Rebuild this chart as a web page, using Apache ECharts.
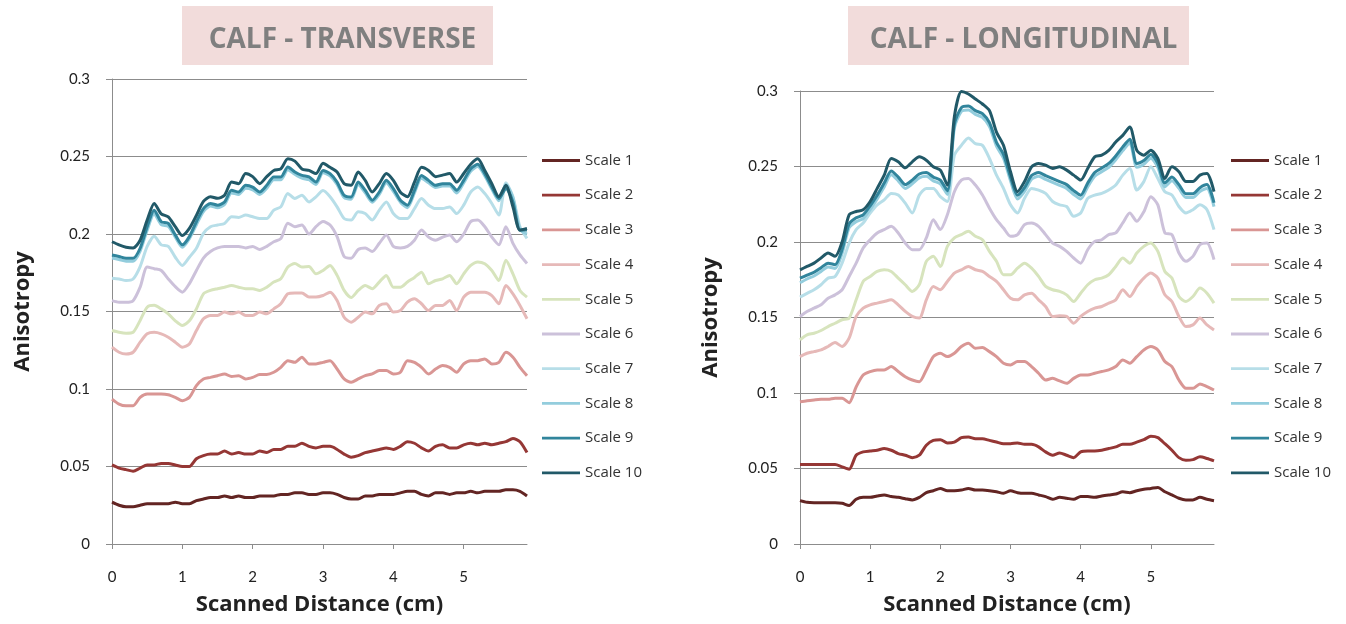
<!DOCTYPE html>
<html>
<head>
<meta charset="utf-8">
<script src="https://cdn.jsdelivr.net/npm/echarts@6/dist/echarts.min.js"></script>
<style>
html,body{margin:0;padding:0;background:#fff;}
#chart{width:1346px;height:624px;}
</style>
</head>
<body>
<div id="chart"></div>
<script>
// Scanned distance (cm)
var dist = [0,0.1,0.2,0.3,0.4,0.5,0.6,0.7,0.8,0.9,1,1.1,1.2,1.3,1.4,1.5,1.6,1.7,1.8,1.9,2,2.1,2.2,2.3,2.4,2.5,2.6,2.7,2.8,2.9,3,3.1,3.2,3.3,3.4,3.5,3.6,3.7,3.8,3.9,4,4.1,4.2,4.3,4.4,4.5,4.6,4.7,4.8,4.9,5,5.1,5.2,5.3,5.4,5.5,5.6,5.7,5.8,5.9];
var xTicks = [0,1,2,3,4,5];
var scaleNames = ['Scale 1','Scale 2','Scale 3','Scale 4','Scale 5','Scale 6','Scale 7','Scale 8','Scale 9','Scale 10'];
var titles = ['CALF - TRANSVERSE','CALF - LONGITUDINAL'];

// CALF - TRANSVERSE
var tS1 = [0.027,0.025,0.024,0.024,0.025,0.026,0.026,0.026,0.026,0.027,0.026,0.026,0.028,0.029,0.030,0.030,0.031,0.030,0.031,0.030,0.030,0.031,0.031,0.031,0.032,0.032,0.033,0.033,0.032,0.032,0.033,0.033,0.032,0.030,0.029,0.029,0.031,0.031,0.032,0.032,0.032,0.033,0.034,0.034,0.032,0.031,0.033,0.033,0.032,0.033,0.033,0.034,0.033,0.034,0.034,0.034,0.035,0.035,0.034,0.031];
var tS2 = [0.051,0.049,0.048,0.047,0.049,0.051,0.051,0.052,0.052,0.051,0.050,0.050,0.055,0.057,0.058,0.058,0.060,0.058,0.059,0.058,0.058,0.060,0.059,0.061,0.061,0.063,0.063,0.065,0.063,0.062,0.063,0.063,0.061,0.058,0.056,0.057,0.059,0.060,0.061,0.062,0.061,0.063,0.066,0.065,0.062,0.060,0.063,0.064,0.062,0.062,0.064,0.065,0.064,0.065,0.064,0.065,0.066,0.068,0.066,0.059];
var tS3 = [0.0935,0.0903,0.0892,0.0892,0.0946,0.0968,0.0968,0.0968,0.0963,0.0946,0.0925,0.0946,0.1022,0.1065,0.1075,0.1086,0.1097,0.108,0.1086,0.1065,0.1075,0.1093,0.1093,0.1108,0.114,0.1183,0.1172,0.1205,0.1162,0.1162,0.1172,0.1183,0.1129,0.1065,0.1043,0.1065,0.1086,0.1097,0.1119,0.1119,0.1097,0.1108,0.1183,0.1172,0.114,0.1097,0.1129,0.1151,0.114,0.1108,0.1162,0.1183,0.1183,0.1194,0.1162,0.1172,0.1237,0.1205,0.114,0.1086];
var tS4 = [0.127,0.1237,0.1226,0.1237,0.1302,0.1356,0.1366,0.1356,0.1334,0.1302,0.127,0.129,0.1377,0.1453,0.1474,0.1474,0.1496,0.1485,0.1496,0.1474,0.1474,0.1496,0.1485,0.1517,0.155,0.1614,0.162,0.162,0.1593,0.1593,0.1603,0.1625,0.1571,0.1463,0.1431,0.1463,0.1496,0.1485,0.1539,0.155,0.1496,0.1506,0.156,0.1582,0.155,0.1506,0.1539,0.1539,0.1571,0.1506,0.1593,0.1625,0.1625,0.1625,0.1603,0.155,0.1668,0.1614,0.1539,0.1453];
var tS5 = [0.1377,0.1366,0.136,0.1366,0.1442,0.1528,0.154,0.1517,0.1485,0.144,0.141,0.144,0.1517,0.1614,0.1636,0.1647,0.1657,0.1668,0.1657,0.1647,0.1647,0.1636,0.1657,0.169,0.1711,0.1787,0.181,0.1787,0.179,0.1743,0.1765,0.1797,0.1733,0.1636,0.159,0.1636,0.1668,0.1647,0.169,0.1733,0.1657,0.1657,0.169,0.172,0.1754,0.1679,0.17,0.1711,0.1733,0.1679,0.1743,0.1797,0.182,0.1808,0.1765,0.17,0.183,0.1743,0.1636,0.1593];
var tS6 = [0.157,0.156,0.156,0.157,0.1657,0.1787,0.1776,0.1765,0.171,0.166,0.1625,0.168,0.1765,0.1845,0.1887,0.191,0.192,0.192,0.192,0.191,0.192,0.19,0.192,0.195,0.197,0.207,0.2047,0.2058,0.2,0.2047,0.208,0.2058,0.1983,0.1855,0.1844,0.19,0.191,0.1887,0.194,0.1994,0.192,0.191,0.192,0.196,0.2026,0.198,0.196,0.198,0.1994,0.195,0.2,0.208,0.209,0.2047,0.198,0.193,0.2047,0.194,0.1865,0.181];
var tS7 = [0.1715,0.171,0.17,0.171,0.179,0.192,0.1985,0.193,0.192,0.185,0.1797,0.185,0.1908,0.2004,0.2047,0.2058,0.2068,0.2111,0.2107,0.2122,0.2111,0.21,0.21,0.2154,0.2175,0.2261,0.2229,0.225,0.2207,0.224,0.228,0.224,0.2175,0.21,0.209,0.2143,0.2132,0.209,0.2154,0.2207,0.2132,0.21,0.21,0.2164,0.2229,0.2186,0.2164,0.2164,0.2175,0.2132,0.2186,0.2271,0.2303,0.2261,0.2197,0.2122,0.233,0.224,0.2047,0.1972];
var tS8 = [0.1845,0.1835,0.1825,0.1825,0.189,0.2025,0.213,0.206,0.205,0.198,0.1915,0.197,0.206,0.2145,0.218,0.217,0.219,0.2265,0.2255,0.2295,0.2285,0.2255,0.2295,0.235,0.235,0.2415,0.2385,0.236,0.235,0.232,0.2395,0.2375,0.232,0.2235,0.2225,0.232,0.2265,0.2205,0.2255,0.233,0.2275,0.2205,0.217,0.2265,0.236,0.233,0.23,0.231,0.231,0.2265,0.233,0.2405,0.2435,0.2375,0.229,0.2215,0.232,0.2235,0.203,0.2];
var tS9 = [0.1865,0.1855,0.1844,0.1844,0.1908,0.2047,0.2154,0.2079,0.2068,0.1994,0.193,0.1983,0.2079,0.2164,0.2197,0.2186,0.2207,0.2282,0.2271,0.2314,0.2303,0.2271,0.2314,0.2368,0.2368,0.2432,0.24,0.2378,0.2368,0.2335,0.241,0.2389,0.2335,0.225,0.2239,0.2335,0.2282,0.2218,0.2271,0.2346,0.2293,0.2218,0.2186,0.2282,0.2378,0.2346,0.2314,0.2325,0.2325,0.2282,0.2346,0.2421,0.245,0.2389,0.2303,0.2229,0.2293,0.2207,0.2026,0.2026];
var tS10 = [0.195,0.193,0.1915,0.191,0.196,0.209,0.2197,0.213,0.211,0.2047,0.199,0.2036,0.212,0.221,0.224,0.223,0.225,0.2335,0.2325,0.239,0.237,0.2325,0.237,0.241,0.242,0.2485,0.247,0.242,0.241,0.239,0.2457,0.243,0.24,0.2325,0.2315,0.24,0.2346,0.2271,0.2325,0.239,0.2346,0.227,0.224,0.2335,0.243,0.241,0.237,0.238,0.239,0.2335,0.239,0.245,0.2485,0.241,0.2325,0.224,0.2315,0.2175,0.2025,0.2035];

// CALF - LONGITUDINAL
var lS1 = [0.0287,0.0276,0.0274,0.0274,0.0274,0.0274,0.027,0.0255,0.0296,0.0309,0.0309,0.0318,0.0325,0.0314,0.0309,0.03,0.0292,0.0309,0.034,0.0353,0.0368,0.0353,0.0353,0.0357,0.0368,0.0357,0.0357,0.0353,0.0346,0.0336,0.0353,0.034,0.0336,0.0336,0.0325,0.0314,0.0296,0.0309,0.0303,0.0296,0.0314,0.0314,0.0309,0.0318,0.0325,0.0331,0.0346,0.034,0.0353,0.0362,0.0368,0.0375,0.0346,0.0325,0.0303,0.0292,0.0292,0.0309,0.0296,0.0287];
var lS2 = [0.0526,0.0526,0.0526,0.0526,0.0526,0.0526,0.0511,0.0495,0.0588,0.061,0.0616,0.0621,0.0632,0.0621,0.0599,0.0588,0.0572,0.0588,0.0654,0.0686,0.0691,0.0669,0.0675,0.0704,0.0708,0.0697,0.0697,0.0686,0.0675,0.0664,0.0664,0.0669,0.066,0.066,0.0643,0.061,0.0588,0.0603,0.0588,0.0572,0.061,0.0616,0.0616,0.0621,0.0632,0.0643,0.066,0.066,0.0675,0.0691,0.0713,0.0704,0.0664,0.0621,0.0572,0.0555,0.0559,0.0577,0.0566,0.055];
var lS3 = [0.0942,0.0949,0.0954,0.0958,0.0958,0.0965,0.0965,0.0936,0.104,0.1119,0.1142,0.1153,0.1153,0.1175,0.1142,0.1108,0.1086,0.1075,0.1153,0.1241,0.1263,0.1241,0.1263,0.1308,0.133,0.1296,0.1302,0.1274,0.1241,0.1197,0.1186,0.1208,0.1208,0.1175,0.1131,0.1086,0.1097,0.108,0.1064,0.1097,0.1119,0.1119,0.1131,0.1142,0.1153,0.1175,0.1219,0.1197,0.1241,0.1285,0.1308,0.1285,0.1208,0.1175,0.1086,0.1031,0.1031,0.106,0.1042,0.102];
var lS4 = [0.1241,0.1263,0.1274,0.1285,0.1308,0.1334,0.1308,0.1363,0.1507,0.1562,0.1584,0.1595,0.1606,0.1617,0.1584,0.154,0.1507,0.1496,0.1617,0.1706,0.1684,0.1739,0.1794,0.1816,0.1838,0.1816,0.1805,0.1772,0.1739,0.1684,0.1628,0.1617,0.165,0.1661,0.1617,0.1573,0.1507,0.1511,0.1507,0.1462,0.1507,0.154,0.1562,0.1573,0.1595,0.1617,0.1684,0.1639,0.1706,0.1761,0.1794,0.1761,0.165,0.1606,0.1507,0.144,0.1451,0.1496,0.1451,0.1418];
var lS5 = [0.1352,0.1385,0.1396,0.1414,0.144,0.1462,0.1485,0.1496,0.1617,0.1739,0.1772,0.1805,0.1816,0.1805,0.1761,0.1717,0.1673,0.1717,0.1872,0.1905,0.1838,0.1971,0.2027,0.2049,0.2071,0.2038,0.2015,0.1938,0.1872,0.1783,0.1783,0.1827,0.186,0.1827,0.1772,0.1706,0.1684,0.1673,0.165,0.1606,0.1661,0.1717,0.175,0.1761,0.1783,0.1838,0.1894,0.186,0.1927,0.1971,0.1993,0.1938,0.1805,0.1761,0.1639,0.1606,0.1639,0.1695,0.1661,0.1595];
var lS6 = [0.1507,0.154,0.1562,0.1584,0.1628,0.165,0.1684,0.1772,0.186,0.196,0.2015,0.206,0.2082,0.2104,0.206,0.1993,0.1949,0.1949,0.2027,0.2148,0.2082,0.218,0.2333,0.241,0.2421,0.2377,0.2311,0.2224,0.2148,0.2093,0.2038,0.2049,0.2115,0.2126,0.2104,0.2049,0.1993,0.1971,0.1938,0.1894,0.186,0.1949,0.2004,0.2015,0.2049,0.206,0.2126,0.2192,0.2137,0.22,0.23,0.2246,0.206,0.2049,0.1927,0.1872,0.1905,0.1982,0.1993,0.1883];
var lS7 = [0.1635,0.166,0.1684,0.1717,0.1761,0.1772,0.186,0.1993,0.2082,0.2126,0.2192,0.2246,0.2279,0.2322,0.2311,0.2257,0.2192,0.231,0.2355,0.2355,0.23,0.2268,0.2575,0.264,0.2689,0.2651,0.264,0.2553,0.2443,0.2355,0.2246,0.2192,0.2289,0.2355,0.2344,0.2322,0.2268,0.2246,0.2235,0.217,0.2192,0.2289,0.2311,0.2322,0.2344,0.2377,0.2443,0.2487,0.2344,0.24,0.2498,0.2421,0.2333,0.2311,0.2235,0.2192,0.2214,0.2246,0.2214,0.2082];
var lS8 = [0.173,0.1755,0.1775,0.1805,0.1835,0.1825,0.1925,0.2095,0.2135,0.2155,0.2215,0.2285,0.2365,0.2445,0.2405,0.2355,0.2385,0.2425,0.2435,0.2405,0.2385,0.2315,0.2755,0.2865,0.2875,0.2845,0.2825,0.2765,0.2635,0.2555,0.2405,0.2285,0.2335,0.2415,0.2435,0.2415,0.2395,0.2375,0.2355,0.2315,0.2285,0.2365,0.2435,0.2465,0.2495,0.2545,0.2605,0.2655,0.2495,0.2515,0.2555,0.2495,0.2365,0.2405,0.2355,0.2295,0.2295,0.2335,0.2355,0.2235];
var lS9 = [0.176,0.178,0.18,0.183,0.186,0.185,0.195,0.212,0.216,0.218,0.224,0.231,0.239,0.247,0.243,0.238,0.241,0.245,0.246,0.243,0.241,0.234,0.278,0.289,0.29,0.287,0.285,0.279,0.266,0.258,0.243,0.231,0.236,0.244,0.246,0.244,0.242,0.24,0.238,0.234,0.231,0.239,0.246,0.249,0.252,0.257,0.263,0.268,0.252,0.254,0.258,0.252,0.239,0.243,0.238,0.232,0.232,0.236,0.238,0.226];
var lS10 = [0.1816,0.1838,0.186,0.1894,0.1927,0.1905,0.2,0.218,0.2202,0.2213,0.2268,0.2355,0.2443,0.2553,0.2531,0.2491,0.2531,0.2564,0.2542,0.2498,0.2476,0.2377,0.283,0.2996,0.298,0.2947,0.2914,0.287,0.2728,0.264,0.2465,0.2333,0.24,0.2498,0.252,0.2509,0.2487,0.2498,0.2476,0.2443,0.241,0.2487,0.2564,0.2575,0.2607,0.2662,0.2706,0.2761,0.2607,0.2575,0.2607,0.2553,0.2421,0.2498,0.2465,0.24,0.24,0.2443,0.2454,0.2333];

var transverse = [tS1,tS2,tS3,tS4,tS5,tS6,tS7,tS8,tS9,tS10];
var longitudinal = [lS1,lS2,lS3,lS4,lS5,lS6,lS7,lS8,lS9,lS10];
var colors = ['#632523','#953735','#d99694','#e6b9b8','#d7e4bd','#ccc1da','#b7dee8','#93cddd','#31859c','#215968'];

var FONT = 'Lato, "Open Sans", sans-serif';
var FONT2 = '"Open Sans", Lato, sans-serif';
var GRID_C = '#8c8c8c';

function makeSeries(sets, idx) {
  return sets.map(function (vals, k) {
    return {
      type: 'line',
      name: scaleNames[k],
      xAxisIndex: idx,
      yAxisIndex: idx,
      data: dist.map(function (x, i) { return [x, vals[i]]; }),
      symbol: 'none',
      showSymbol: false,
      smooth: 0.25,
      lineStyle: { width: 3, color: colors[k] },
      itemStyle: { color: colors[k] },
      emphasis: { disabled: true },
      z: 2 + k
    };
  });
}

function xAxis(idx) {
  return {
    type: 'value', gridIndex: idx, min: 0, max: 5.9, interval: 1,
    axisLine: { show: true, lineStyle: { color: GRID_C, width: 1 } },
    axisTick: { show: true, length: 5, lineStyle: { color: GRID_C }, customValues: xTicks },
    axisLabel: { margin: 26, fontSize: 15, color: '#222', fontFamily: FONT, customValues: xTicks },
    splitLine: { show: false },
    name: 'Scanned Distance (cm)', nameLocation: 'middle', nameGap: 50,
    nameTextStyle: { fontSize: 22, fontWeight: 'bold', color: '#222', fontFamily: FONT2 }
  };
}
function yAxis(idx) {
  return {
    type: 'value', gridIndex: idx, min: 0, max: 0.3, interval: 0.05,
    axisLine: { show: true, lineStyle: { color: GRID_C, width: 1 } },
    axisTick: { show: true, length: 6, lineStyle: { color: GRID_C } },
    axisLabel: { margin: 22, fontSize: 15, color: '#222', fontFamily: FONT },
    splitLine: { show: true, lineStyle: { color: GRID_C, width: 1 } },
    name: 'Anisotropy', nameLocation: 'middle', nameGap: 78,
    nameTextStyle: { fontSize: 22, fontWeight: 'bold', color: '#222', fontFamily: FONT2 }
  };
}
function legend(left) {
  return {
    data: scaleNames, orient: 'vertical', left: left, top: 148,
    icon: 'path://M0,0H41V3H0Z', symbolKeepAspect: true,
    itemWidth: 38, itemHeight: 14, itemGap: 19.7,
    textStyle: { fontSize: 15, color: '#333', fontFamily: FONT2 },
    selectedMode: false
  };
}

var chart = echarts.init(document.getElementById('chart'), null, { renderer: 'canvas' });
chart.setOption({
  animation: false,
  backgroundColor: '#ffffff',
  title: [
    { text: titles[0], left: 337.5, top: 35.5, textAlign: 'center', textVerticalAlign: 'middle',
      textStyle: { fontSize: 28, fontWeight: 'bold', color: '#7f7f7f', fontFamily: FONT2 } },
    { text: titles[1], left: 1018.5, top: 35.5, textAlign: 'center', textVerticalAlign: 'middle',
      textStyle: { fontSize: 28, fontWeight: 'bold', color: '#7f7f7f', fontFamily: FONT2 } }
  ],
  graphic: [
    { type: 'rect', shape: { x: 182, y: 6, width: 311, height: 59 }, style: { fill: '#f2dcdb' }, z: -1 },
    { type: 'rect', shape: { x: 848, y: 6, width: 341, height: 59 }, style: { fill: '#f2dcdb' }, z: -1 }
  ],
  grid: [
    { left: 112, top: 79, width: 415, height: 465, outerBoundsMode: 'none' },
    { left: 800, top: 91, width: 414, height: 453, outerBoundsMode: 'none' }
  ],
  xAxis: [xAxis(0), xAxis(1)],
  yAxis: [yAxis(0), yAxis(1)],
  legend: [legend(537), legend(1226)],
  series: makeSeries(transverse, 0).concat(makeSeries(longitudinal, 1))
});
</script>
</body>
</html>
